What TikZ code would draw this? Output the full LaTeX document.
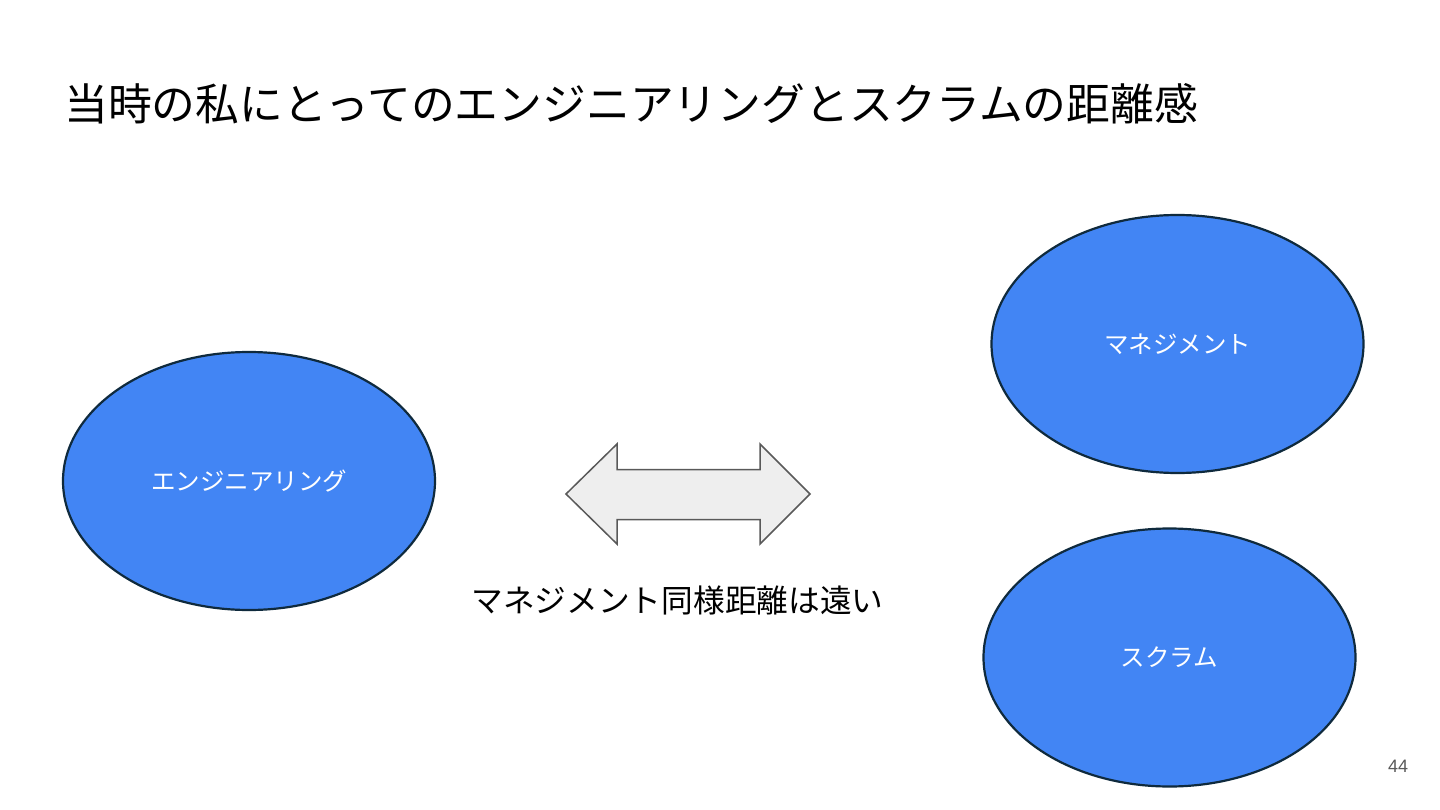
\documentclass[tikz,border=0pt]{standalone}
\usepackage{fontspec}
\setmainfont{Liberation Sans}
\newfontfamily\cjk{Noto Sans CJK JP}
\usetikzlibrary{shapes.geometric}
\definecolor{gblue}{HTML}{4285F4}
\definecolor{edge}{HTML}{0F2A3D}
\definecolor{arrfill}{HTML}{EEEEEE}
\definecolor{arrdraw}{HTML}{595959}
\definecolor{pgnum}{HTML}{595959}
\tikzset{
  blob/.style={ellipse, draw=edge, line width=2.2pt, fill=gblue, text=white,
    minimum width=372pt, minimum height=258pt, font=\cjk\fontsize{24.5}{28}\selectfont, inner sep=0pt},
  dblarrow/.style={draw=arrdraw, line width=1.5pt, fill=arrfill, line join=miter},
}
\begin{document}
\begin{tikzpicture}[x=1pt,y=-1pt]
\useasboundingbox (0,0) rectangle (1440,810);
\fill[white] (0,0) rectangle (1440,810);
\node[anchor=west, inner sep=0pt, font=\cjk\fontsize{43.8}{50}\selectfont] (title) at (64,104) {当時の私にとってのエンジニアリングとスクラムの距離感};
\node[blob] (eng) at (249,481) {エンジニアリング};
\node[blob] (mgmt) at (1177.5,344) {マネジメント};
\node[blob] (scrum) at (1169.5,657.5) {スクラム};
\draw[dblarrow] (566,494) -- (617,444) -- (617,469.5) -- (760,469.5) -- (760,444) -- (810,494)
  -- (760,544) -- (760,519.5) -- (617,519.5) -- (617,544) -- cycle;
\node[font=\cjk\fontsize{31.7}{36}\selectfont, inner sep=0pt] (lbl) at (677.5,600) {マネジメント同様距離は遠い};
\node[font=\fontsize{18}{20}\selectfont, text=pgnum, inner sep=0pt] (pg) at (1398,766) {44};
\end{tikzpicture}
\end{document}
